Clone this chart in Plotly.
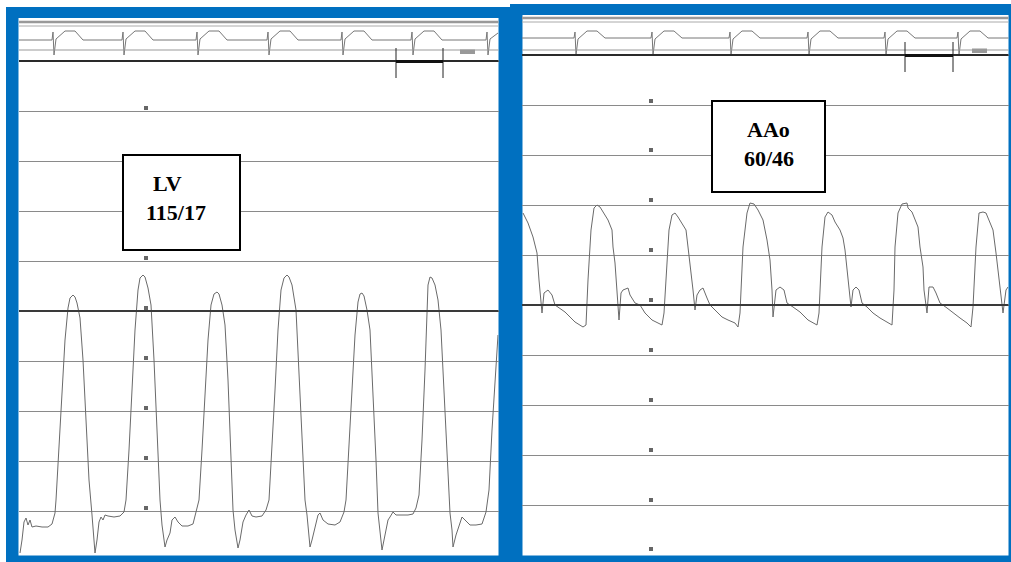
import plotly.graph_objects as go

# ---------------- data (time in s, pressure in mmHg) ----------------
lv_t = [0.01,0.03,0.05,0.07,0.09,0.11,0.13,0.17,0.23,0.29,0.33,0.36,
        0.37,0.40,0.43,0.46,0.49,0.51,0.54,0.56,0.58,0.61,0.64,0.67,0.70,0.73,0.75,0.76,0.78,0.80,0.82,0.84,0.86,0.89,0.95,1.01,1.05,
        1.07,1.10,1.13,1.16,1.19,1.21,1.24,1.26,1.29,1.32,1.35,1.38,1.41,1.43,1.46,1.48,1.51,1.53,1.56,1.59,1.63,1.69,1.74,1.77,
        1.80,1.83,1.86,1.89,1.92,1.95,1.98,2.00,2.03,2.06,2.09,2.12,2.14,2.16,2.19,2.21,2.24,2.27,2.30,2.33,2.37,2.43,2.47,
        2.50,2.53,2.56,2.59,2.62,2.65,2.68,2.70,2.73,2.77,2.80,2.83,2.86,2.88,2.91,2.93,2.96,2.99,3.01,3.04,3.09,3.16,3.21,3.25,
        3.27,3.30,3.33,3.36,3.39,3.41,3.43,3.45,3.48,3.51,3.54,3.57,3.59,3.61,3.63,3.66,3.69,3.71,3.74,3.77,3.83,3.89,3.94,3.97,
        4.00,4.03,4.06,4.08,4.09,4.11,4.13,4.16,4.19,4.22,4.25,4.28,4.31,4.33,4.34,4.37,4.40,4.43,4.46,4.51,4.57,4.63,4.67,
        4.70,4.73,4.76,4.79]
lv_p = [3.2,8.4,15.6,17.2,14.4,16.4,13.6,14.0,13.6,13.6,14.8,19.2,
        24.4,44.4,68.4,88.4,101.2,105.2,106.4,105.6,103.2,97.2,80.4,56.4,32.4,18.4,8.4,3.2,8.4,15.6,17.6,16.4,18.4,18.0,17.6,18.0,19.6,
        24.4,44.4,68.4,92.4,108.4,113.2,114.4,113.6,109.2,102.4,80.4,52.4,24.4,14.4,5.6,8.4,11.2,16.4,17.6,15.6,14.0,14.0,14.8,19.6,
        24.4,44.4,68.4,88.4,102.4,106.8,107.6,106.8,102.4,94.4,72.4,44.4,20.4,12.4,5.2,8.4,15.6,18.4,20.4,18.0,17.6,18.0,20.4,
        24.4,44.4,68.4,92.4,108.4,113.2,114.4,113.6,110.4,100.4,76.4,48.4,24.4,18.4,5.6,8.4,13.6,18.4,19.2,16.4,14.8,14.4,15.6,19.6,
        24.4,44.4,68.4,90.4,103.6,106.8,107.2,106.0,100.4,92.4,68.4,40.4,19.2,10.4,4.4,10.4,16.4,17.6,19.6,18.4,18.4,18.4,18.8,21.2,
        26.4,48.4,76.4,100.4,110.4,113.6,113.2,110.4,104.4,92.4,68.4,40.4,19.2,12.4,5.6,10.4,14.4,17.6,16.4,14.4,14.4,14.8,19.6,
        28.4,52.4,72.4,90.4]

aao_t = [0.01,0.06,0.11,0.15,0.17,0.19,0.20,0.22,0.26,0.30,0.33,0.43,0.53,0.61,0.64,
         0.66,0.69,0.72,0.75,0.78,0.81,0.86,0.90,0.91,0.93,0.95,0.97,0.99,1.01,1.06,1.08,1.13,1.18,1.23,1.30,1.36,1.40,
         1.42,1.45,1.47,1.50,1.53,1.56,1.60,1.64,1.66,1.69,1.71,1.73,1.75,1.78,1.81,1.85,1.88,1.93,2.00,2.06,2.13,2.16,
         2.18,2.21,2.25,2.28,2.32,2.36,2.41,2.45,2.48,2.50,2.51,2.54,2.58,2.62,2.65,2.71,2.78,2.86,2.95,
         2.97,3.00,3.03,3.06,3.10,3.13,3.18,3.21,3.23,3.25,3.27,3.29,3.31,3.34,3.37,3.40,3.45,3.51,3.58,3.66,3.70,
         3.72,3.73,3.76,3.80,3.85,3.86,3.90,3.93,3.96,3.98,4.01,4.02,4.05,4.07,4.11,4.14,4.18,4.25,4.31,4.38,4.45,4.49,
         4.51,4.54,4.57,4.61,4.64,4.67,4.71,4.74,4.77,4.80,4.81,4.84,4.86]
aao_p = [68.4,66.4,63.6,60.4,55.0,50.4,48.4,52.4,53.0,52.0,50.0,48.6,46.6,45.6,46.0,
         55.0,65.0,69.4,70.0,69.6,68.6,67.0,65.0,61.6,58.4,53.0,47.0,52.4,53.0,53.4,52.0,50.4,50.0,48.4,47.0,46.4,46.0,
         48.4,58.4,65.0,68.0,68.4,67.6,66.4,65.0,61.6,57.0,53.0,49.0,52.0,53.0,53.4,51.4,50.0,49.0,47.6,47.0,46.4,45.6,
         48.4,61.6,68.4,70.4,70.2,69.0,67.0,63.0,59.0,53.0,47.6,53.0,53.6,53.0,50.4,49.6,48.6,47.0,46.0,
         48.4,61.6,67.6,68.6,68.0,66.6,65.0,63.4,61.0,57.6,53.0,49.6,53.0,53.6,53.0,50.4,49.6,48.4,47.4,46.4,46.0,
         53.0,61.6,68.4,70.2,70.4,69.4,68.6,67.0,65.6,61.6,57.6,53.0,48.4,53.6,53.6,52.4,50.4,49.4,48.4,47.4,46.4,45.6,
         49.6,61.6,68.4,68.6,68.4,67.0,65.0,60.4,55.0,49.6,48.4,53.0,53.6]

ecg_l_t = [0.0,
           0.33,0.34,0.35,0.37,0.46,0.56,0.64,
           1.03,1.04,1.05,1.07,1.16,1.26,1.34,
           1.77,1.78,1.79,1.81,1.90,2.00,2.08,
           2.48,2.49,2.50,2.52,2.61,2.71,2.79,
           3.22,3.23,3.24,3.26,3.35,3.45,3.53,
           3.92,3.93,3.94,3.96,4.05,4.15,4.23,
           4.67,4.68,4.69,4.71,4.79]
ecg_l_p = [208.4,
           208.4,211.6,202.4,208.8,212.0,212.0,208.4,
           208.4,211.6,202.4,208.8,212.0,212.0,208.4,
           208.4,211.6,202.4,208.8,212.0,212.0,208.4,
           208.4,211.6,202.4,208.8,212.0,212.0,208.4,
           208.4,211.6,202.4,208.8,212.0,212.0,208.4,
           208.4,211.6,202.4,208.8,212.0,212.0,208.4,
           208.4,211.6,202.4,208.8,211.2]

ecg_r_t = [0.0,
           0.52,0.53,0.54,0.56,0.65,0.75,0.83,
           1.29,1.30,1.31,1.33,1.42,1.52,1.60,
           2.07,2.08,2.09,2.11,2.20,2.30,2.38,
           2.85,2.86,2.87,2.89,2.98,3.08,3.16,
           3.62,3.63,3.64,3.66,3.75,3.85,3.93,
           4.35,4.36,4.37,4.39,4.48,4.58,4.66,
           4.87]
ecg_r_p = [103.4,
           103.4,104.6,100.0,103.2,104.8,104.8,103.4,
           103.4,104.6,100.0,103.2,104.8,104.8,103.4,
           103.4,104.6,100.0,103.2,104.8,104.8,103.4,
           103.4,104.6,100.0,103.2,104.8,104.8,103.4,
           103.4,104.6,100.0,103.2,104.8,104.8,103.4,
           103.4,104.6,100.0,103.2,104.8,104.8,103.4,
           103.4]

dots_l_t = [1.27] * 9
dots_l_p = [21.2, 41.2, 61.2, 81.2, 101.2, 121.2, 141.2, 161.2, 181.2]
dots_r_t = [1.29] * 10
dots_r_p = [1.2, 11.0, 21.0, 31.0, 41.0, 51.0, 61.0, 71.0, 81.0, 90.8]

lv_label = ["LV", "115/17"]
aao_label = ["AAo", "60/46"]

W, H = 1011, 562
BLUE = "#0070C0"
TRACE = "#6a6a6a"
GRID = "#8a8a8a"

def px(x):
    return x / W

def py(y):
    return 1 - y / H

fig = go.Figure()

fig.add_trace(go.Scatter(x=lv_t, y=lv_p, mode="lines", line=dict(color=TRACE, width=1), xaxis="x", yaxis="y", hoverinfo="skip"))
fig.add_trace(go.Scatter(x=ecg_l_t, y=ecg_l_p, mode="lines", line=dict(color="#777", width=1), xaxis="x", yaxis="y", hoverinfo="skip"))
fig.add_trace(go.Scatter(x=dots_l_t, y=dots_l_p, mode="markers", marker=dict(color="#666", size=4, symbol="square"), xaxis="x", yaxis="y", hoverinfo="skip"))

fig.add_trace(go.Scatter(x=aao_t, y=aao_p, mode="lines", line=dict(color=TRACE, width=1), xaxis="x2", yaxis="y2", hoverinfo="skip"))
fig.add_trace(go.Scatter(x=ecg_r_t, y=ecg_r_p, mode="lines", line=dict(color="#777", width=1), xaxis="x2", yaxis="y2", hoverinfo="skip"))
fig.add_trace(go.Scatter(x=dots_r_t, y=dots_r_p, mode="markers", marker=dict(color="#666", size=4, symbol="square"), xaxis="x2", yaxis="y2", hoverinfo="skip"))

shapes = []
# blue frames + white inner areas
shapes.append(dict(type="rect", xref="paper", yref="paper", x0=px(6), x1=px(512), y0=0, y1=py(7), fillcolor=BLUE, line=dict(width=0), layer="below"))
shapes.append(dict(type="rect", xref="paper", yref="paper", x0=px(510), x1=1, y0=0, y1=py(4), fillcolor=BLUE, line=dict(width=0), layer="below"))
shapes.append(dict(type="rect", xref="paper", yref="paper", x0=px(18.5), x1=px(498.5), y0=py(555.5), y1=py(18), fillcolor="white", line=dict(width=0), layer="below"))
shapes.append(dict(type="rect", xref="paper", yref="paper", x0=px(522.5), x1=px(1008.5), y0=py(555.5), y1=py(15), fillcolor="white", line=dict(width=0), layer="below"))

def hline(xr, yr, yv, color, width):
    return dict(type="line", xref=xr + " domain", yref=yr, x0=0, x1=1, y0=yv, y1=yv, line=dict(color=color, width=width))

# left panel strong lines and strip lines
shapes += [hline("x", "y", 100, "#3a3a3a", 2), hline("x", "y", 200, "#2a2a2a", 2),
           hline("x", "y", 204.4, "#999", 1), hline("x", "y", 215.6, "#999", 2.5), hline("x", "y", 214.0, "#aaa", 1)]
# right panel strong lines and strip lines
shapes += [hline("x2", "y2", 50, "#3a3a3a", 2), hline("x2", "y2", 100, "#2a2a2a", 2),
           hline("x2", "y2", 101.0, "#999", 1), hline("x2", "y2", 107.4, "#999", 2.5), hline("x2", "y2", 106.6, "#aaa", 1)]

# calibration marks
for xv in (3.77, 4.24):
    shapes.append(dict(type="line", xref="x", yref="y", x0=xv, x1=xv, y0=193.2, y1=205.2, line=dict(color="#222", width=1)))
shapes.append(dict(type="line", xref="x", yref="y", x0=3.77, x1=4.24, y0=199.8, y1=199.8, line=dict(color="#111", width=3)))
shapes.append(dict(type="rect", xref="x", yref="y", x0=4.41, x1=4.56, y0=202.8, y1=204.6, fillcolor="#999", line=dict(width=0)))
for xv in (3.83, 4.31):
    shapes.append(dict(type="line", xref="x2", yref="y2", x0=xv, x1=xv, y0=96.6, y1=102.6, line=dict(color="#222", width=1)))
shapes.append(dict(type="line", xref="x2", yref="y2", x0=3.83, x1=4.31, y0=99.9, y1=99.9, line=dict(color="#111", width=3)))
shapes.append(dict(type="rect", xref="x2", yref="y2", x0=4.50, x1=4.65, y0=100.4, y1=101.3, fillcolor="#999", line=dict(width=0)))

# label boxes
shapes.append(dict(type="rect", xref="paper", yref="paper", x0=px(123), x1=px(240), y0=py(250), y1=py(155), fillcolor="white", line=dict(color="black", width=2)))
shapes.append(dict(type="rect", xref="paper", yref="paper", x0=px(712), x1=px(825), y0=py(192), y1=py(101), fillcolor="white", line=dict(color="black", width=2)))

font = dict(family="Liberation Serif, Times New Roman, serif", size=22, color="black")
def label(text, x, y):
    return dict(text="<b>" + text + "</b>", x=px(x), y=py(y), xref="paper", yref="paper",
                xanchor="center", yanchor="middle", showarrow=False, font=font)

annotations = [
    label(lv_label[0], 167, 183),
    label(lv_label[1], 176, 212),
    label(aao_label[0], 768, 129),
    label(aao_label[1], 769, 158),
]

axis_x = dict(visible=False, showgrid=False, zeroline=False, fixedrange=True)
fig.update_layout(
    width=W, height=H, margin=dict(l=0, r=0, t=0, b=0),
    paper_bgcolor="white", plot_bgcolor="rgba(0,0,0,0)", showlegend=False,
    xaxis=dict(axis_x, domain=[px(19), px(498.5)], range=[0, 4.795], anchor="y"),
    yaxis=dict(domain=[py(555), py(18)], range=[2.4, 217.2], showgrid=True, gridcolor=GRID, gridwidth=1.2,
               tick0=0, dtick=20, showticklabels=False, ticks="", zeroline=False, showline=False, fixedrange=True,
               anchor="x"),
    xaxis2=dict(axis_x, domain=[px(522), px(1008.5)], range=[0, 4.865], anchor="y2"),
    yaxis2=dict(domain=[py(555.5), py(15)], range=[-0.1, 108], showgrid=True, gridcolor=GRID, gridwidth=1.2,
                tick0=0, dtick=10, showticklabels=False, ticks="", zeroline=False, showline=False, fixedrange=True,
                anchor="x2"),
    shapes=shapes, annotations=annotations,
)

fig.write_html("out.html", config={"displayModeBar": False},
               post_script="document.body.style.margin='0';document.body.style.padding='0';document.body.style.overflow='hidden';")
